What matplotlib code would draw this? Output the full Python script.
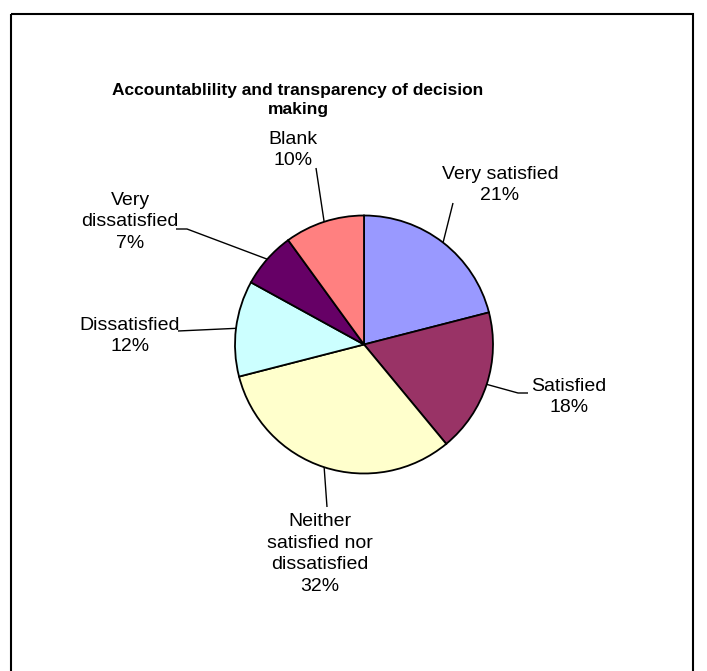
import numpy as np
import matplotlib.pyplot as plt
from matplotlib.patches import Rectangle

plt.rcParams['font.family'] = ['Liberation Sans', 'DejaVu Sans']

# data
categories = ["Very satisfied", "Satisfied", "Neither\nsatisfied nor\ndissatisfied",
              "Dissatisfied", "Very\ndissatisfied", "Blank"]
percents = [21, 18, 32, 12, 7, 10]
colors = ["#9999FF", "#993366", "#FFFFCC", "#CCFFFF", "#660066", "#FF8080"]
title = "Accountablility and transparency of decision\nmaking"

# layout (pixel coords, y down)
W, H = 707, 671
center = (364, 344.5)
radius = 129
label_xy = [(500, 185), (569, 397), (320, 554), (130, 336), (130, 222), (293, 150)]
# extra points of each leader line after the pie edge point
leader_pts = [
    [(453, 203)],
    [(518, 393), (528, 393)],
    [(327, 507)],
    [(178, 331)],
    [(187, 229), (176, 229)],
    [(316, 168)],
]

fig = plt.figure(figsize=(W / 100, H / 100), dpi=100)
ax = fig.add_axes([0, 0, 1, 1])

# y axis is flipped, so start at -90 and go counterclockwise in data = clockwise on screen
wedges, _ = ax.pie(percents, colors=colors, startangle=-90, counterclock=True,
                   center=center, radius=radius,
                   wedgeprops=dict(edgecolor='black', linewidth=1.3))
ax.set_xlim(0, W)
ax.set_ylim(H, 0)
ax.set_aspect('equal')
ax.axis('off')

for w, cat, p, xy, pts in zip(wedges, categories, percents, label_xy, leader_pts):
    ang = np.deg2rad((w.theta1 + w.theta2) / 2)
    x0 = center[0] + radius * np.cos(ang)
    y0 = center[1] + radius * np.sin(ang)
    xs = [x0] + [q[0] for q in pts]
    ys = [y0] + [q[1] for q in pts]
    ax.plot(xs, ys, color='black', lw=1.0, solid_capstyle='butt')
    ax.text(xy[0], xy[1], f"{cat}\n{p}%", ha='center', va='center',
            fontsize=14, linespacing=1.38, color='black')

ax.text(298, 100, title, ha='center', va='center', fontsize=12.5,
        fontweight='bold', linespacing=1.4, color='black')

# chart area border (runs off the bottom of the image)
ax.add_patch(Rectangle((11, 13.5), 681.5, 720, fill=False, edgecolor='black', lw=1.5))

fig.savefig("out.png", dpi=100)
